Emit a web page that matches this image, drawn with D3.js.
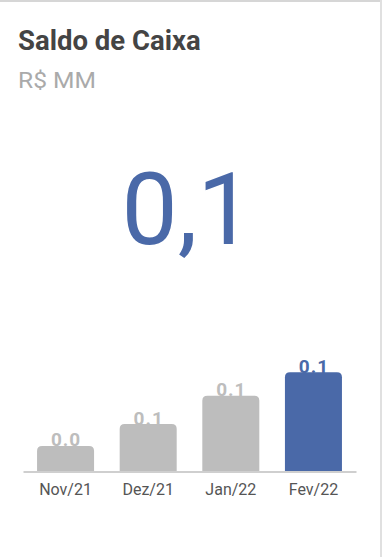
<!DOCTYPE html>
<html><head><meta charset="utf-8">
<script src="https://cdn.jsdelivr.net/npm/d3@7"></script>
<style>
html,body{margin:0;padding:0;background:#fff;}
svg{display:block;font-family:Roboto, sans-serif;}
</style></head>
<body>
<script>
const title = "Saldo de Caixa";
const subtitle = "R$ MM";
const kpiValue = "0,1";
const categories = ["Nov/21", "Dez/21", "Jan/22", "Fev/22"];
const values = [0.036, 0.067, 0.107, 0.140];
const valueLabels = ["0.0", "0.1", "0.1", "0.1"];

const W = 382, H = 557;
const blue = "#4a69a8", grey = "#bdbdbd";
const svg = d3.select("body").append("svg").attr("width", W).attr("height", H);

// card borders
svg.append("rect").attr("x", 0).attr("y", 0).attr("width", W).attr("height", 2).attr("fill", "#d6d6d6");
svg.append("rect").attr("x", 380).attr("y", 0).attr("width", 2).attr("height", H).attr("fill", "#e0e0e0");

svg.append("text").attr("x", 18).attr("y", 50).attr("font-size", 27.5).attr("font-weight", 700)
  .attr("fill", "#444").text(title);
svg.append("text").attr("x", 18).attr("y", 88).attr("font-size", 22.5)
  .attr("textLength", 78).attr("lengthAdjust", "spacingAndGlyphs")
  .attr("fill", "#aaa").text(subtitle);

svg.append("text").attr("x", 187.5).attr("y", 243.5).attr("text-anchor", "middle")
  .attr("font-size", 100).attr("fill", blue).text(kpiValue);

const x = d3.scaleBand().domain(categories).range([23, 356]).paddingInner(0.31).paddingOuter(0.17);
const base = 471.5;
const y = d3.scaleLinear().domain([0, d3.max(values)]).range([base, 372.3]);

const r = 5;
const g = svg.append("g");
g.selectAll("path.bar").data(values).join("path")
  .attr("fill", (d, i) => i === values.length - 1 ? blue : grey)
  .attr("d", (d, i) => {
    const x0 = x(categories[i]), w = x.bandwidth(), y0 = y(d);
    return `M${x0},${base} V${y0 + r} Q${x0},${y0} ${x0 + r},${y0} H${x0 + w - r} Q${x0 + w},${y0} ${x0 + w},${y0 + r} V${base} Z`;
  });

g.selectAll("text.val").data(values).join("text")
  .attr("x", (d, i) => x(categories[i]) + x.bandwidth() / 2 + 0.5)
  .attr("y", d => y(d) + 0.5)
  .attr("text-anchor", "middle").attr("font-size", 19).attr("font-weight", 700)
  .attr("letter-spacing", 1)
  .attr("fill", (d, i) => i === values.length - 1 ? blue : grey)
  .text((d, i) => valueLabels[i]);

const axis = svg.append("g").attr("transform", `translate(0,${base})`)
  .call(d3.axisBottom(x).tickSize(0).tickPadding(12));
axis.select(".domain").attr("stroke", "#cfcfcf").attr("stroke-width", 2);
axis.selectAll("text").attr("font-size", 16).attr("fill", "#555").attr("font-family", "Roboto, sans-serif");
</script>
</body></html>
